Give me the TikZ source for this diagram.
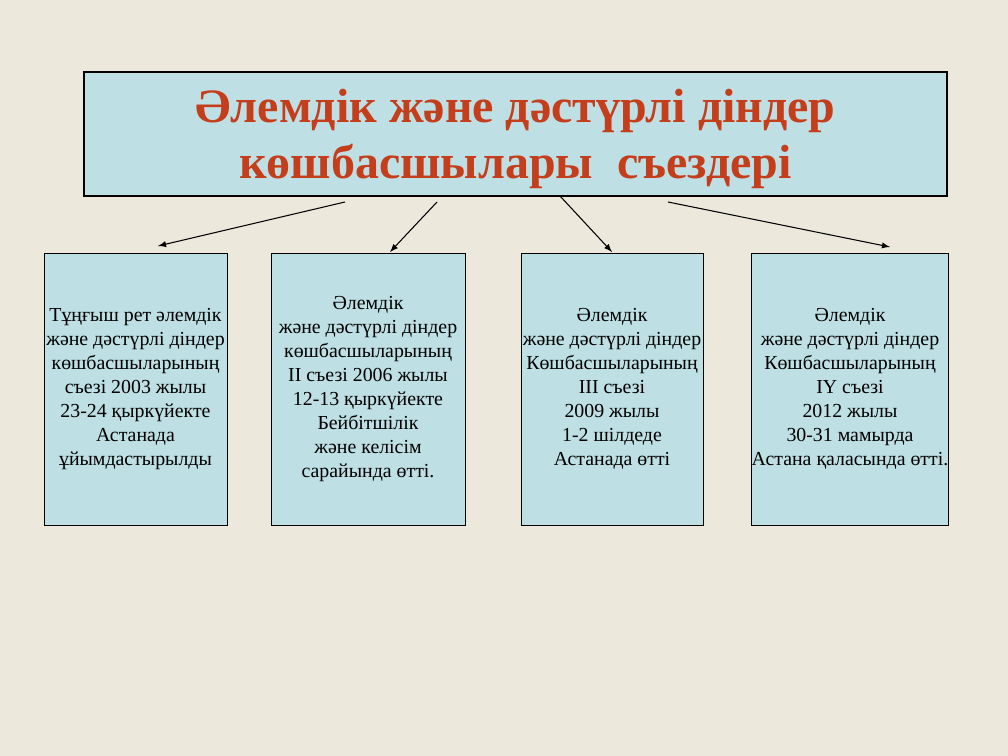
\documentclass[tikz,border=0pt]{standalone}
\usepackage{fontspec}
\setmainfont{Liberation Serif}
\usetikzlibrary{arrows.meta}
\definecolor{paper}{RGB}{236,232,220}
\definecolor{boxblue}{RGB}{190,223,227}
\definecolor{titlered}{RGB}{196,62,28}

\begin{document}
\begin{tikzpicture}[x=0.02cm, y=-0.02cm, inner sep=0pt, >=latex,
   titlebox/.style={draw=black, line width=0.6pt, fill=boxblue, minimum width=863*0.02cm, minimum height=124*0.02cm, text height=56pt, align=center, text=titlered, font=\fontsize{27.3}{31.7}\selectfont\bfseries},
   infobox/.style={draw=black, line width=0.5pt, fill=boxblue, minimum height=272*0.02cm, align=center, font=\fontsize{11.3}{13.6}\selectfont},
   link/.style={->, line width=0.6pt}
   ]

   \fill[paper] (0,0) rectangle (1008,756);
   \useasboundingbox (0,0) rectangle (1008,756);

   \path (515.5,134) node[titlebox] (T) {Әлемдік және дәстүрлі діндер\\көшбасшылары\ \ съездері};

   \path (135.5,389) node[infobox, minimum width=183*0.02cm] (B1) {Тұңғыш рет әлемдік\\және дәстүрлі діндер\\көшбасшыларының\\съезі 2003 жылы\\23-24 қыркүйекте\\Астанада\\ұйымдастырылды}
   (368,389) node[infobox, minimum width=194*0.02cm] (B2) {Әлемдік\\және дәстүрлі діндер\\көшбасшыларының\\ІІ съезі 2006 жылы\\12-13 қыркүйекте\\Бейбітшілік\\және келісім\\сарайында өтті.};
   \path (612,389) node[infobox, minimum width=182*0.02cm] (B3) {Әлемдік\\және дәстүрлі діндер\\Көшбасшыларының\\ІІІ съезі\\2009 жылы\\1-2 шілдеде\\Астанада өтті}
   (850,389) node[infobox, minimum width=194*0.02cm] (B4) {Әлемдік\\және дәстүрлі діндер\\Көшбасшыларының\\ІҮ съезі\\2012 жылы\\30-31 мамырда\\Астана қаласында өтті.};

   \coordinate (S1) at (345,202);
   \coordinate (S2) at (437,202);
   \coordinate (S3) at (560,196);
   \coordinate (S4) at (668,202);
   \coordinate (E1) at (158,246);
   \coordinate (E2) at (390,252);
   \coordinate (E3) at (612,252);
   \coordinate (E4) at (890,247);

   \draw[link] (S1) -- (E1);
   \draw[link] (S2) -- (E2);
   \draw[link] (S3) -- (E3);
   \draw[link] (S4) -- (E4);

\end{tikzpicture}
\end{document}
